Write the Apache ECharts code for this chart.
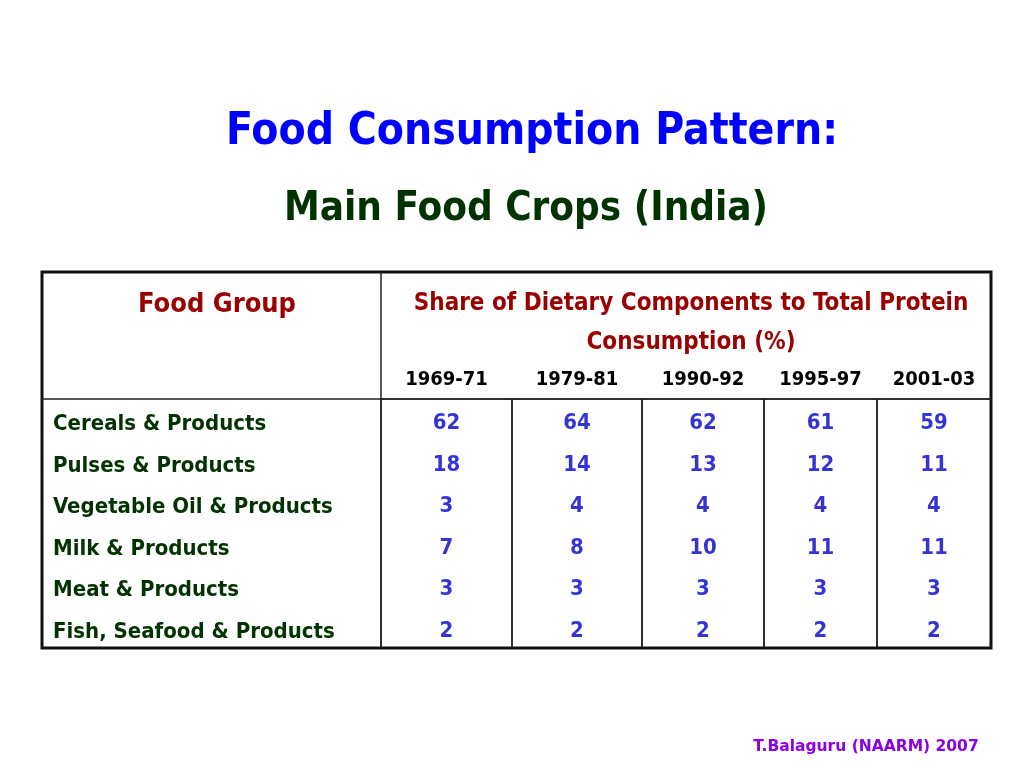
<!DOCTYPE html>
<html>
<head>
    <meta charset="UTF-8">
    <title>Food Consumption Pattern</title>
    <style>
        html, body { margin: 0; padding: 0; background: #fff; }
        #main { width: 1024px; height: 768px; }
    </style>
</head>
<body>
<div id="main"></div>
<script src="https://cdn.jsdelivr.net/npm/echarts@6/dist/echarts.min.js"></script>
<script type="text/javascript">
    // data
    var years = ['1969-71', '1979-81', '1990-92', '1995-97', '2001-03'];
    var foodGroups = [
        'Cereals & Products',
        'Pulses & Products',
        'Vegetable Oil & Products',
        'Milk & Products',
        'Meat & Products',
        'Fish, Seafood & Products'
    ];
    var share1969 = [62, 18, 3, 7, 3, 2];
    var share1979 = [64, 14, 4, 8, 3, 2];
    var share1990 = [62, 13, 4, 10, 3, 2];
    var share1995 = [61, 12, 4, 11, 3, 2];
    var share2001 = [59, 11, 4, 11, 3, 2];
    var shares = [share1969, share1979, share1990, share1995, share2001];

    // table layout (pixels)
    var colEdges = [381, 512, 642, 764, 877, 991];
    var tableLeft = 42, tableTop = 272, headRule = 399, tableBottom = 648;

    var narrow = "'DejaVu Sans Condensed', 'Arial Narrow', sans-serif";
    var green = '#003300';
    var red = '#990000';
    var blue = '#0000cc';

    var grids = [], xAxes = [], yAxes = [], series = [];
    for (var i = 0; i < years.length; i++) {
        grids.push({
            show: true,
            left: colEdges[i],
            width: colEdges[i + 1] - colEdges[i],
            top: headRule,
            height: tableBottom - headRule,
            borderColor: '#222',
            borderWidth: 1.5,
            backgroundColor: 'transparent'
        });
        xAxes.push({
            type: 'category',
            gridIndex: i,
            position: 'top',
            data: [years[i]],
            axisLine: { show: false },
            axisTick: { show: false },
            splitLine: { show: false },
            axisLabel: {
                margin: 9,
                color: '#000',
                fontFamily: narrow,
                fontWeight: 'bold',
                fontSize: 20
            }
        });
        yAxes.push({
            type: 'category',
            gridIndex: i,
            inverse: true,
            data: foodGroups,
            axisLine: { show: false },
            axisTick: { show: false },
            splitLine: { show: false },
            axisLabel: {
                show: i === 0,
                align: 'left',
                verticalAlign: 'top',
                lineHeight: 10,
                margin: colEdges[0] - 53,
                color: green,
                fontFamily: narrow,
                fontWeight: 'bold',
                fontSize: 22
            }
        });
        var pts = [];
        for (var j = 0; j < foodGroups.length; j++) {
            pts.push([years[i], foodGroups[j], shares[i][j]]);
        }
        series.push({
            type: 'scatter',
            xAxisIndex: i,
            yAxisIndex: i,
            symbolSize: 1,
            itemStyle: { color: 'rgba(0,0,0,0)' },
            silent: true,
            data: pts,
            label: {
                show: true,
                position: 'inside',
                offset: [0, 4],
                color: blue,
                fontFamily: narrow,
                fontWeight: 'bold',
                fontSize: 22,
                formatter: function (p) { return p.value[2]; }
            }
        });
    }

    var option = {
        animation: false,
        backgroundColor: '#fff',
        title: [
            {
                text: 'Food Consumption Pattern:',
                left: 527, top: 128,
                textAlign: 'center', textVerticalAlign: 'middle',
                textStyle: { color: '#0000ff', fontFamily: narrow, fontWeight: 'bold', fontSize: 44 }
            },
            {
                text: 'Main Food Crops (India)',
                left: 521, top: 205,
                textAlign: 'center', textVerticalAlign: 'middle',
                textStyle: { color: green, fontFamily: narrow, fontWeight: 'bold', fontSize: 40 }
            },
            {
                text: 'Food Group',
                left: 212, top: 300,
                textAlign: 'center', textVerticalAlign: 'middle',
                textStyle: { color: red, fontFamily: narrow, fontWeight: 'bold', fontSize: 27 }
            },
            {
                text: 'Share of Dietary Components to Total Protein\nConsumption (%)',
                left: 686, top: 318,
                textAlign: 'center', textVerticalAlign: 'middle',
                textStyle: { color: red, fontFamily: narrow, fontWeight: 'bold', fontSize: 24, lineHeight: 39 }
            },
            {
                text: 'T.Balaguru (NAARM) 2007',
                left: 861, top: 742,
                textAlign: 'center', textVerticalAlign: 'middle',
                textStyle: { color: '#8c00e6', fontFamily: "'DejaVu Sans', Verdana, sans-serif", fontWeight: 'bold', fontSize: 15.5 }
            }
        ],
        grid: grids,
        xAxis: xAxes,
        yAxis: yAxes,
        series: series,
        graphic: [
            {
                type: 'rect',
                shape: { x: tableLeft, y: tableTop, width: colEdges[5] - tableLeft, height: tableBottom - tableTop },
                style: { fill: 'none', stroke: '#111', lineWidth: 3 },
                z: 10
            },
            {
                type: 'line',
                shape: { x1: colEdges[0], y1: tableTop, x2: colEdges[0], y2: tableBottom },
                style: { stroke: '#222', lineWidth: 1.5 },
                z: 10
            },
            {
                type: 'line',
                shape: { x1: tableLeft, y1: headRule, x2: colEdges[5], y2: headRule },
                style: { stroke: '#222', lineWidth: 1.5 },
                z: 10
            }
        ]
    };

    var myChart = echarts.init(document.getElementById('main'));
    myChart.setOption(option);
</script>
</body>
</html>
